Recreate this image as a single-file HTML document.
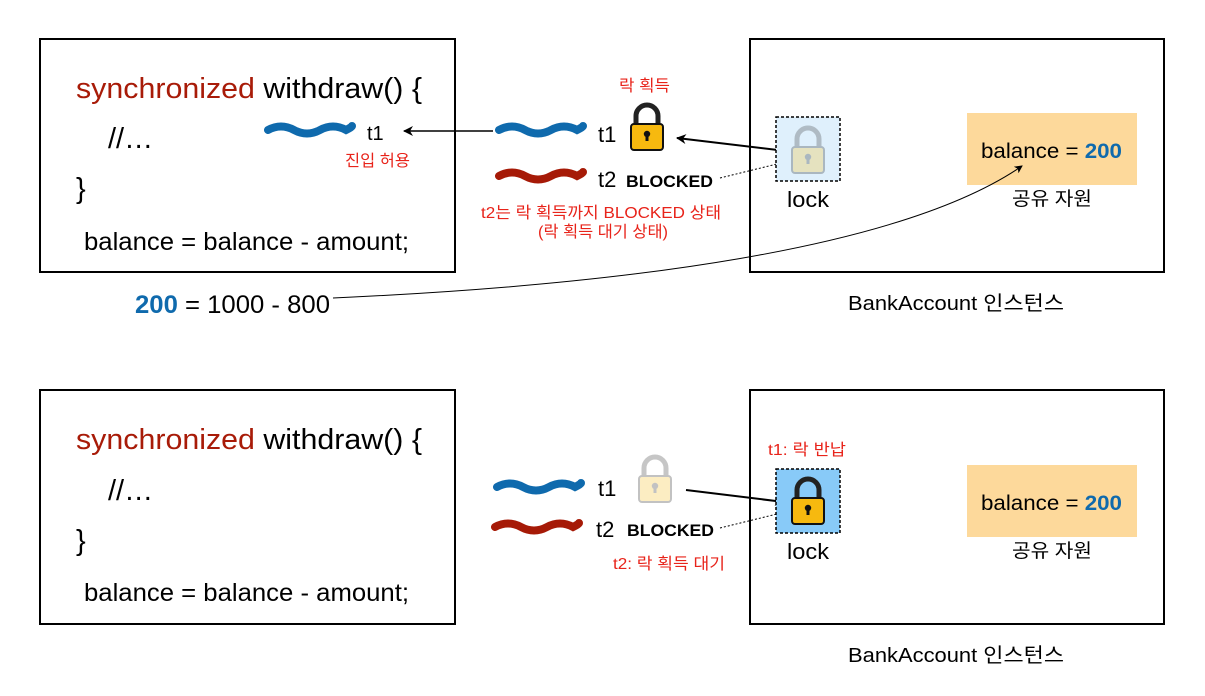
<!DOCTYPE html>
<html><head><meta charset="utf-8"><style>
body{margin:0;background:#fff}
svg text{font-family:"Liberation Sans","Noto Sans CJK KR",sans-serif}
</style></head><body>
<svg width="1205" height="691" viewBox="0 0 1205 691" xmlns="http://www.w3.org/2000/svg">
<defs>
<marker id="ah" markerWidth="10" markerHeight="10" refX="9" refY="5" orient="auto" markerUnits="userSpaceOnUse"><path d="M0,0 L10,5 L0,10 L3,5 Z" fill="#000"/></marker>
<marker id="ah2" markerWidth="8" markerHeight="8" refX="7" refY="4" orient="auto" markerUnits="userSpaceOnUse"><path d="M0,0 L8,4 L0,8 L2,4 Z" fill="#000"/></marker>
<g id="lock">
<path d="M6,24 V14 a11,11 0 0 1 22,0 V24" stroke="#222" stroke-width="5" fill="none"/>
<rect x="1" y="22" width="32" height="26" rx="3" fill="#f7b90f" stroke="#111" stroke-width="2"/>
<circle cx="17" cy="32" r="3.2" fill="#111"/><rect x="15.5" y="32" width="3" height="7" fill="#111"/>
</g>
</defs>
<g fill="none" stroke="#000" stroke-width="2">
<rect x="40" y="39" width="415" height="233"/>
<rect x="750" y="39" width="414" height="233"/>
<rect x="40" y="390" width="415" height="234"/>
<rect x="750" y="390" width="414" height="234"/>
</g>
<text x="76" y="98" font-size="29" textLength="346" lengthAdjust="spacingAndGlyphs"><tspan fill="#a81b08">synchronized</tspan> withdraw() {</text>
<text x="108" y="148" font-size="29">//…</text>
<text x="76" y="198" font-size="29">}</text>
<text x="84" y="250" font-size="25" textLength="325" lengthAdjust="spacingAndGlyphs">balance = balance - amount;</text>
<path d="M268,130 q13,-7 26,0 t26,0 t26,0 q6,-3 6,-4" stroke="#0f6aad" stroke-width="8" fill="none" stroke-linecap="round"/>
<text x="367" y="140" font-size="20">t1</text>
<line x1="493" y1="131" x2="404" y2="131" stroke="#000" stroke-width="1.5" marker-end="url(#ah)"/>
<text x="345" y="166" font-size="16" fill="#e8231a" textLength="65" lengthAdjust="spacingAndGlyphs">진입 허용</text>
<text x="619" y="91" font-size="16" fill="#e8231a" textLength="51" lengthAdjust="spacingAndGlyphs">락 획득</text>
<path d="M499,130 q13,-7 26,0 t26,0 t26,0 q6,-3 6,-4" stroke="#0f6aad" stroke-width="8" fill="none" stroke-linecap="round"/>
<path d="M499,176 q13,-7 26,0 t26,0 t26,0 q6,-3 6,-4" stroke="#a61a07" stroke-width="8" fill="none" stroke-linecap="round"/>
<text x="598" y="142" font-size="22">t1</text>
<text x="598" y="187" font-size="22">t2</text>
<text x="626" y="187" font-size="17" font-weight="bold" textLength="87" lengthAdjust="spacingAndGlyphs">BLOCKED</text>
<use href="#lock" x="630" y="102"/>
<line x1="786" y1="151" x2="677" y2="138" stroke="#000" stroke-width="2" marker-end="url(#ah)"/>
<line x1="720" y1="178" x2="785" y2="162" stroke="#000" stroke-width="1" stroke-dasharray="2,2" marker-end="url(#ah2)"/>
<text x="481" y="218" font-size="16" fill="#e8231a" textLength="240" lengthAdjust="spacingAndGlyphs">t2는 락 획득까지 BLOCKED 상태</text>
<text x="538" y="237" font-size="16" fill="#e8231a" textLength="130" lengthAdjust="spacingAndGlyphs">(락 획득 대기 상태)</text>
<rect x="776" y="117" width="64" height="64" fill="#dff0fc" stroke="#000" stroke-width="1.5" stroke-dasharray="3,2"/>
<use href="#lock" x="791" y="125" opacity="0.25"/>
<text x="787" y="207" font-size="22" textLength="42" lengthAdjust="spacingAndGlyphs">lock</text>
<rect x="967" y="113" width="170" height="72" fill="#fdd99b"/>
<text x="981" y="158" font-size="21" textLength="141" lengthAdjust="spacingAndGlyphs">balance = <tspan fill="#0f6aad" font-weight="bold">200</tspan></text>
<text x="1012" y="205" font-size="19" textLength="80" lengthAdjust="spacingAndGlyphs">공유 자원</text>
<text x="848" y="310" font-size="20" textLength="216" lengthAdjust="spacingAndGlyphs">BankAccount 인스턴스</text>
<text x="135" y="313" font-size="25" textLength="195" lengthAdjust="spacingAndGlyphs"><tspan fill="#0f6aad" font-weight="bold">200</tspan> = 1000 - 800</text>
<path d="M333,298 C620,285 900,250 1022,166" stroke="#000" stroke-width="1" fill="none" marker-end="url(#ah2)"/>
<text x="76" y="449" font-size="29" textLength="346" lengthAdjust="spacingAndGlyphs"><tspan fill="#a81b08">synchronized</tspan> withdraw() {</text>
<text x="108" y="500" font-size="29">//…</text>
<text x="76" y="550" font-size="29">}</text>
<text x="84" y="601" font-size="25" textLength="325" lengthAdjust="spacingAndGlyphs">balance = balance - amount;</text>
<path d="M497,487 q13,-7 26,0 t26,0 t26,0 q6,-3 6,-4" stroke="#0f6aad" stroke-width="8" fill="none" stroke-linecap="round"/>
<path d="M495,527 q13,-7 26,0 t26,0 t26,0 q6,-3 6,-4" stroke="#a61a07" stroke-width="8" fill="none" stroke-linecap="round"/>
<text x="598" y="496" font-size="22">t1</text>
<text x="596" y="537" font-size="22">t2</text>
<text x="627" y="536" font-size="17" font-weight="bold" textLength="87" lengthAdjust="spacingAndGlyphs">BLOCKED</text>
<use href="#lock" x="638" y="454" opacity="0.25"/>
<line x1="686" y1="490" x2="784" y2="502" stroke="#000" stroke-width="2" marker-end="url(#ah)"/>
<line x1="720" y1="528" x2="785" y2="512" stroke="#000" stroke-width="1" stroke-dasharray="2,2" marker-end="url(#ah2)"/>
<text x="613" y="569" font-size="16" fill="#e8231a" textLength="112" lengthAdjust="spacingAndGlyphs">t2: 락 획득 대기</text>
<text x="768" y="455" font-size="16" fill="#e8231a" textLength="78" lengthAdjust="spacingAndGlyphs">t1: 락 반납</text>
<rect x="776" y="469" width="64" height="64" fill="#88caf8" stroke="#000" stroke-width="1.5" stroke-dasharray="3,2"/>
<use href="#lock" x="791" y="476"/>
<text x="787" y="559" font-size="22" textLength="42" lengthAdjust="spacingAndGlyphs">lock</text>
<rect x="967" y="465" width="170" height="72" fill="#fdd99b"/>
<text x="981" y="510" font-size="21" textLength="141" lengthAdjust="spacingAndGlyphs">balance = <tspan fill="#0f6aad" font-weight="bold">200</tspan></text>
<text x="1012" y="557" font-size="19" textLength="80" lengthAdjust="spacingAndGlyphs">공유 자원</text>
<text x="848" y="662" font-size="20" textLength="216" lengthAdjust="spacingAndGlyphs">BankAccount 인스턴스</text>
</svg>
</body></html>
